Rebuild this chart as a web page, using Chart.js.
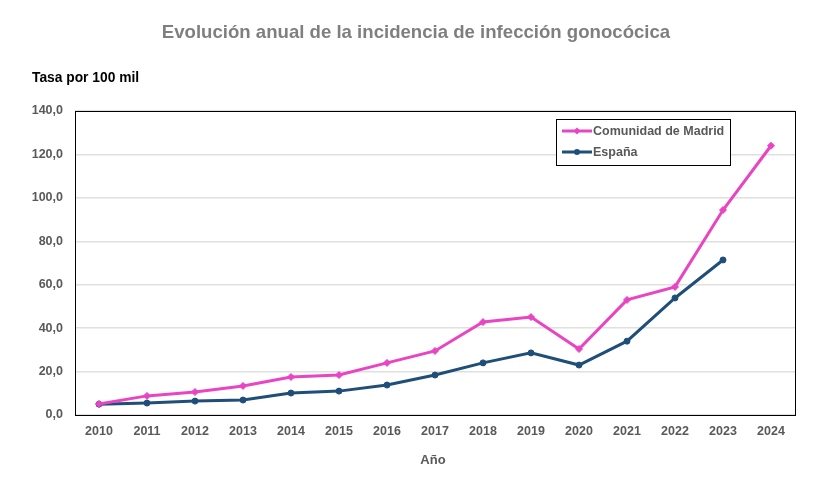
<!DOCTYPE html>
<html><head><meta charset="utf-8">
<script src="https://cdn.jsdelivr.net/npm/chart.js@4/dist/chart.umd.min.js"></script>
<style>html,body{margin:0;padding:0;background:#fff}#wrap{width:835px;height:493px;position:relative}</style>
</head><body><div id="wrap"><canvas id="c" width="835" height="493"></canvas></div>
<script>
const years = ['2010','2011','2012','2013','2014','2015','2016','2017','2018','2019','2020','2021','2022','2023','2024'];
const madrid = [5.1, 8.8, 10.6, 13.4, 17.5, 18.4, 24.0, 29.5, 42.8, 45.1, 30.4, 53.0, 59.0, 94.4, 124.0];
const espana = [5.0, 5.5, 6.4, 6.9, 10.1, 11.0, 13.8, 18.4, 24.0, 28.6, 23.0, 34.0, 53.9, 71.4, null];
const titleText = 'Evolución anual de la incidencia de infección gonocócica';
const yTitle = 'Tasa por 100 mil';
const xTitle = 'Año';
const FONT = '"Liberation Sans", Arial, sans-serif';

const extras = {
  id: 'extras',
  afterDraw(chart) {
    const ctx = chart.ctx, a = chart.chartArea;
    ctx.save();
    ctx.strokeStyle = '#000'; ctx.lineWidth = 1;
    ctx.strokeRect(a.left + 0.5, a.top + 0.5, a.right - a.left, a.bottom - a.top);
    ctx.fillStyle = '#7f7f7f'; ctx.font = 'bold 18.6px ' + FONT;
    ctx.textAlign = 'center'; ctx.textBaseline = 'middle';
    ctx.fillText(titleText, 416, 33);
    ctx.fillStyle = '#000'; ctx.font = 'bold 13.8px ' + FONT; ctx.textAlign = 'left';
    ctx.fillText(yTitle, 32, 78);
    ctx.fillStyle = '#595959'; ctx.font = 'bold 13px ' + FONT; ctx.textAlign = 'center';
    ctx.fillText(xTitle, 433, 460);
    const lx = 556, ly = 119, lw = 174, lh = 46;
    ctx.fillStyle = '#fff'; ctx.fillRect(lx, ly, lw, lh);
    ctx.strokeStyle = '#000'; ctx.lineWidth = 1; ctx.strokeRect(lx + 0.5, ly + 0.5, lw, lh);
    chart.data.datasets.forEach((ds, i) => {
      const y = ly + 12 + i * 21;
      ctx.strokeStyle = ds.borderColor; ctx.lineWidth = 3;
      ctx.beginPath(); ctx.moveTo(lx + 6, y); ctx.lineTo(lx + 36, y); ctx.stroke();
      ctx.fillStyle = ds.borderColor;
      ctx.beginPath();
      if (ds.pointStyle === 'rectRot') {
        ctx.moveTo(lx + 21, y - 3.5); ctx.lineTo(lx + 24.5, y); ctx.lineTo(lx + 21, y + 3.5); ctx.lineTo(lx + 17.5, y);
      } else { ctx.arc(lx + 21, y, 3, 0, Math.PI * 2); }
      ctx.fill();
      ctx.fillStyle = '#595959'; ctx.font = 'bold 12.5px ' + FONT;
      ctx.textAlign = 'left'; ctx.textBaseline = 'middle';
      ctx.fillText(ds.label, lx + 37, y + 1);
    });
    ctx.restore();
  }
};

new Chart(document.getElementById('c'), {
  type: 'line',
  data: {
    labels: years,
    datasets: [
      { label: 'Comunidad de Madrid', data: madrid, borderColor: '#E945C3', backgroundColor: '#E945C3',
        borderWidth: 3, pointStyle: 'rectRot', pointRadius: 3.5, pointBorderWidth: 1, pointHoverRadius: 3.5, tension: 0 },
      { label: 'España', data: espana, borderColor: '#1F4E79', backgroundColor: '#1F4E79',
        borderWidth: 3, pointStyle: 'circle', pointRadius: 3, pointBorderWidth: 1, pointHoverRadius: 3, tension: 0 }
    ]
  },
  options: {
    responsive: false, animation: false, devicePixelRatio: 1,
    layout: { padding: { top: 111, right: 40, left: 0, bottom: 0 } },
    plugins: { legend: { display: false }, title: { display: false }, tooltip: { enabled: false } },
    scales: {
      x: {
        offset: true,
        grid: { display: false, drawTicks: false },
        border: { display: false },
        ticks: { color: '#595959', font: { family: FONT, size: 12.5, weight: 'bold' }, padding: 9, maxRotation: 0 },
        afterFit(s) { s.height = 78; }
      },
      y: {
        min: 0, max: 140,
        grid: { color: '#e0e0e0', lineWidth: 1.5, drawTicks: false },
        border: { display: false },
        ticks: { stepSize: 20, color: '#595959', font: { family: FONT, size: 12.5, weight: 'bold' }, padding: 12,
          callback: v => v.toFixed(1).replace('.', ',') },
        afterFit(s) { s.width = 75; }
      }
    }
  },
  plugins: [extras]
});
</script></body></html>
